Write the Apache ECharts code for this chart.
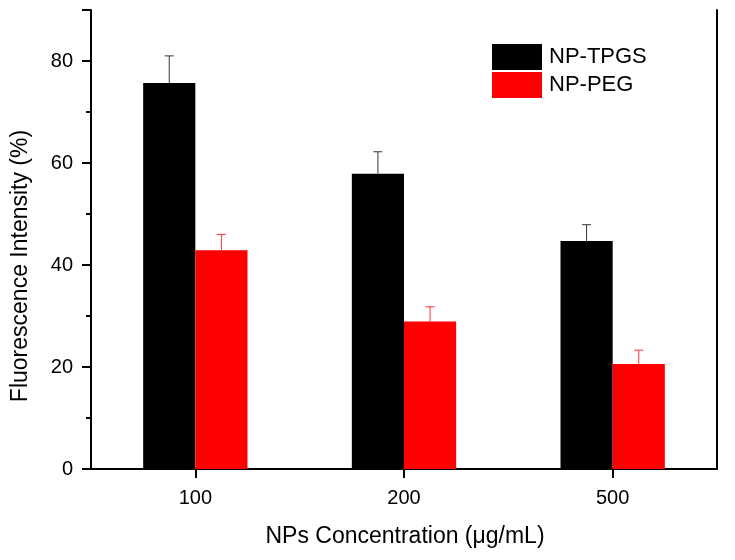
<!DOCTYPE html>
<html>
<head>
<meta charset="utf-8">
<script src="https://cdn.jsdelivr.net/npm/echarts@6/dist/echarts.min.js"></script>
<style>html,body{margin:0;padding:0;background:#fff}#c{width:735px;height:560px}</style>
</head>
<body>
<div id="c"></div>
<script>
var categories = ['100', '200', '500'];
var tpgsValues = [75.7, 57.9, 44.7];
var tpgsErrors = [5.3, 4.3, 3.2];
var pegValues = [42.9, 28.9, 20.6];
var pegErrors = [3.1, 2.9, 2.7];
var yTicks = [0, 20, 40, 60, 80];
var xTitle = 'NPs Concentration (μg/mL)';
var yTitle = 'Fluorescence Intensity (%)';

var FONT = 'Liberation Sans, Arial, sans-serif';
var chart = echarts.init(document.getElementById('c'), null, {renderer: 'canvas'});

function errData(vals, errs) {
  return vals.map(function (v, i) { return [i, v, errs[i]]; });
}
function errRender(offsetSign, color) {
  return function (params, api) {
    var idx = api.value(0);
    var v = api.value(1);
    var e = api.value(2);
    var band = api.size([1, 0])[0];
    var base = api.coord([idx, v]);
    var top = api.coord([idx, v + e]);
    var x = base[0] + offsetSign * band * 0.125;
    var cap = 4.5;
    return {
      type: 'group',
      children: [
        {type: 'line', shape: {x1: x, y1: base[1], x2: x, y2: top[1]}, style: {stroke: color, lineWidth: 1}},
        {type: 'line', shape: {x1: x - cap, y1: top[1], x2: x + cap, y2: top[1]}, style: {stroke: color, lineWidth: 1}}
      ]
    };
  };
}

var option = {
  animation: false,
  backgroundColor: '#fff',
  grid: {left: 91, right: 18, top: 10, bottom: 91, containLabel: false},
  legend: {
    orient: 'vertical', left: 492, top: 44, itemWidth: 50, itemHeight: 26, itemGap: 2,
    padding: 0, icon: 'rect', data: ['NP-TPGS', 'NP-PEG'],
    textStyle: {fontFamily: FONT, fontSize: 22, color: '#000', padding: [0, 0, 0, 2]}
  },
  graphic: [
    {type: 'text', x: 405, y: 537,
      style: {text: xTitle, font: '23px ' + FONT, fill: '#000', align: 'center', verticalAlign: 'middle'}},
    {type: 'text', x: 21, y: 266, rotation: Math.PI / 2,
      style: {text: yTitle, font: '23px ' + FONT, fill: '#000', align: 'center', verticalAlign: 'middle'}}
  ],
  xAxis: [{
    type: 'category', data: categories, position: 'bottom',
    axisLine: {lineStyle: {color: '#000', width: 2}},
    axisTick: {show: true, alignWithLabel: true, inside: false, length: 9, lineStyle: {color: '#000', width: 2}},
    axisLabel: {fontFamily: FONT, fontSize: 20, color: '#000', margin: 19},
    splitLine: {show: false}
  }, {
    type: 'category', data: categories, position: 'top',
    axisLine: {lineStyle: {color: '#000', width: 2}},
    axisTick: {show: false}, axisLabel: {show: false}, splitLine: {show: false}
  }],
  yAxis: [{
    type: 'value', min: 0, max: 90, interval: 20,
    axisLine: {show: true, lineStyle: {color: '#000', width: 2}},
    axisTick: {show: true, length: 9, lineStyle: {color: '#000', width: 2}},
    minorTick: {show: true, splitNumber: 2, length: 5, lineStyle: {color: '#000', width: 2}},
    axisLabel: {fontFamily: FONT, fontSize: 20, color: '#000', margin: 18,
      formatter: function (v) { return yTicks.indexOf(v) >= 0 ? String(v) : ''; }},
    splitLine: {show: false}
  }, {
    type: 'value', min: 0, max: 90, position: 'right',
    axisLine: {show: true, lineStyle: {color: '#000', width: 2}},
    axisTick: {show: false}, axisLabel: {show: false}, splitLine: {show: false}
  }],
  series: [
    {name: 'NP-TPGS', type: 'bar', data: tpgsValues, barWidth: '25%', barGap: '0%',
      itemStyle: {color: '#000'}, z: 2},
    {name: 'NP-PEG', type: 'bar', data: pegValues, barWidth: '25%', barGap: '0%',
      itemStyle: {color: '#ff0000'}, z: 2},
    {type: 'custom', data: errData(tpgsValues, tpgsErrors), renderItem: errRender(-1, '#333'), z: 3, silent: true},
    {type: 'custom', data: errData(pegValues, pegErrors), renderItem: errRender(1, '#ff3333'), z: 3, silent: true}
  ]
};
chart.setOption(option);
</script>
</body>
</html>
